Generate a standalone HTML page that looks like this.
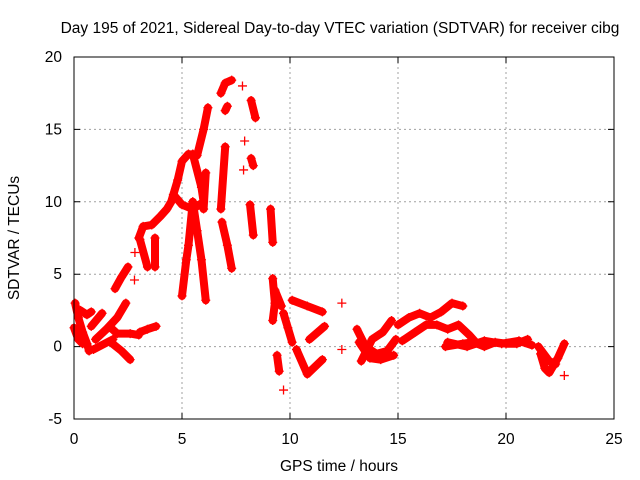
<!DOCTYPE html>
<html><head><meta charset="utf-8"><style>
body{margin:0;background:#fff;}
svg{display:block;font-family:"Liberation Sans",sans-serif;}
</style></head><body>
<svg id="chart" width="640" height="480">
<text x="340" y="33" font-size="15.5" text-anchor="middle">Day 195 of 2021, Sidereal Day-to-day VTEC variation (SDTVAR) for receiver cibg</text>
<text x="339" y="471" font-size="15.5" text-anchor="middle">GPS time / hours</text>
<text transform="translate(19,238) rotate(-90)" font-size="15.5" text-anchor="middle">SDTVAR / TECUs</text>
<g id="grid"></g><g id="marks"></g><g id="ticks"></g>
<rect x="74" y="57" width="540" height="362" fill="none" stroke="#000" stroke-width="1"/>
</svg>
<script>
const xTicks=[0,5,10,15,20,25];
const yTicks=[-5,0,5,10,15,20];
const trackTimes=[
[1.0,1.5,2.0,2.4],
[1.9,2.2,2.5],
[3.0,3.2,3.6,4.0,4.3,4.5,4.8,5.0,5.3,5.7,6.0,6.2],
[6.8,7.0,7.3],
[5.5,5.9,6.0,5.5,5.0,4.6],
[5.5,5.3,5.2,5.0],
[5.5,5.7,5.9,6.1],
[6.1,6.0],
[7.0,6.8],
[6.85,7.1,7.3],
[7.0,7.1],
[8.2,8.4],[8.2,8.3],[8.15,8.3],
[9.1,9.2],
[9.2,9.3,9.2],
[9.3,9.6],
[9.7,9.9,10.1],
[10.3,10.8,11.5],
[10.1,10.8,11.5],
[10.9,11.6],
[12.4],[12.4],
[9.4,9.5],[9.7],
[13.1,13.5,14.0,14.5,14.9],
[13.3,13.8,14.3,14.7],
[13.2,13.7,14.2,14.8],
[15.0,15.5,16.0,16.5,17.0,17.5,18.0],
[15.2,15.8,16.3,16.8,17.3,17.8,18.3,18.6],
[17.2,18.0,18.5,19.0,19.5,20.0,20.5,21.0],
[17.3,18.2,19.0,19.8,20.6,21.2],
[21.5,22.0,22.3],
[21.6,21.8,22.0,22.4,22.7],
[0.05,0.2,0.4,0.6,0.7],
[0.0,0.2,0.4],
[0.3,0.6,0.8],
[0.8,1.3],
[1.7,2.0,2.6,3.0],
[1.7,2.2,2.6],
[0.9,1.8],
[3.05,3.4,3.8],
[3.05,3.4],[3.75,3.75],[2.82],[2.8],
[7.8],[7.9],[7.85],[22.7]
];
const trackValues=[
[0.5,1.2,2.0,3.0],
[4.0,4.8,5.5],
[7.5,8.3,8.4,9.0,9.5,10.0,11.5,12.8,13.3,13.2,15.0,16.5],
[17.5,18.2,18.4],
[13.3,11.0,10.0,9.5,9.8,10.5],
[10.0,7.0,6.0,3.5],
[10.0,8.0,6.0,3.2],
[12.0,9.5],
[13.8,9.5],
[8.6,7.0,5.4],
[16.3,16.6],
[17.0,15.8],[13.0,12.5],[9.8,7.7],
[9.5,7.2],
[4.7,3.0,1.8],
[3.9,2.8],
[2.3,1.3,0.3],
[-0.2,-1.9,-0.9],
[3.2,2.8,2.4],
[0.5,1.4],
[3.0],[-0.2],
[-0.6,-1.7],[-3.0],
[1.2,0.0,-0.5,-0.3,0.5],
[-1.0,0.5,1.0,1.8],
[0.3,-0.8,-0.9,-0.6],
[1.5,2.0,2.3,2.0,2.4,3.0,2.8],
[0.4,1.0,1.5,1.5,1.2,1.5,0.8,0.3],
[0.0,0.2,0.3,0.0,0.3,0.2,0.2,0.5],
[0.3,0.0,0.4,0.2,0.4,0.1],
[0.0,-1.0,-1.2],
[-0.5,-1.5,-1.8,-0.8,0.2],
[3.0,2.0,1.0,0.2,-0.3],
[1.3,0.5,0.2],
[2.5,2.2,2.4],
[1.4,2.3],
[1.3,0.9,0.9,0.8],
[0.3,-0.3,-0.9],
[-0.2,0.5],
[1.0,1.2,1.4],
[7.4,5.5],[7.5,5.5],[6.5],[4.6],
[18.0],[14.2],[12.2],[-2.0]
];
const NS='http://www.w3.org/2000/svg';
const X0=74,X1=614,Y0=419,Y1=57;
function sx(t){return X0+(t-0)/(25-0)*(X1-X0);}
function sy(v){return Y0-(v-(-5))/(20-(-5))*(Y0-Y1);}
const grid=document.getElementById('grid'),ticks=document.getElementById('ticks'),marks=document.getElementById('marks');
xTicks.forEach(t=>{
  const x=sx(t);
  if(t>0&&t<25){const l=document.createElementNS(NS,'line');l.setAttribute('x1',x);l.setAttribute('x2',x);l.setAttribute('y1',Y1);l.setAttribute('y2',Y0);l.setAttribute('stroke','#a0a0a0');l.setAttribute('stroke-dasharray','2,3');
  
  
  grid.appendChild(l);}
  const tk=document.createElementNS(NS,'path');tk.setAttribute('d',`M${x},${Y0}v-6M${x},${Y1}v6`);tk.setAttribute('stroke','#000');
  
  
  ticks.appendChild(tk);
  const tx=document.createElementNS(NS,'text');tx.setAttribute('x',x);tx.setAttribute('y',444);tx.setAttribute('font-size','15.5');tx.setAttribute('text-anchor','middle');tx.textContent=t;
  
  
  ticks.appendChild(tx);
});
yTicks.forEach(v=>{
  const y=sy(v);
  if(v>-5&&v<20){const l=document.createElementNS(NS,'line');l.setAttribute('x1',X0);l.setAttribute('x2',X1);l.setAttribute('y1',y);l.setAttribute('y2',y);l.setAttribute('stroke','#a0a0a0');l.setAttribute('stroke-dasharray','2,3');
  
  
  grid.appendChild(l);}
  const tk=document.createElementNS(NS,'path');tk.setAttribute('d',`M${X0},${y}h6M${X1},${y}h-6`);tk.setAttribute('stroke','#000');
  
  
  ticks.appendChild(tk);
  const tx=document.createElementNS(NS,'text');tx.setAttribute('x',X0-12);tx.setAttribute('y',y+5);tx.setAttribute('font-size','15.5');tx.setAttribute('text-anchor','end');tx.textContent=v;
  
  
  ticks.appendChild(tx);
});
trackTimes.forEach((ts,i)=>{
  const vs=trackValues[i];
  const pts=ts.map((t,j)=>sx(t)+','+sy(vs[j])).join(' ');
  if(ts.length>1){
    const pl=document.createElementNS(NS,'polyline');pl.setAttribute('points',pts);pl.setAttribute('fill','none');pl.setAttribute('stroke','#f00');pl.setAttribute('stroke-width','8');pl.setAttribute('stroke-linejoin','round');pl.setAttribute('stroke-linecap','round');
    
    
    marks.appendChild(pl);
  }
  ts.forEach((t,j)=>{
    const x=sx(t),y=sy(vs[j]);
    const p=document.createElementNS(NS,'path');p.setAttribute('d',`M${x-4.5},${y}h9M${x},${y-4.5}v9`);p.setAttribute('stroke','#f00');p.setAttribute('stroke-width','1.3');
    
    
    marks.appendChild(p);
  });
});
</script>
</body></html>
